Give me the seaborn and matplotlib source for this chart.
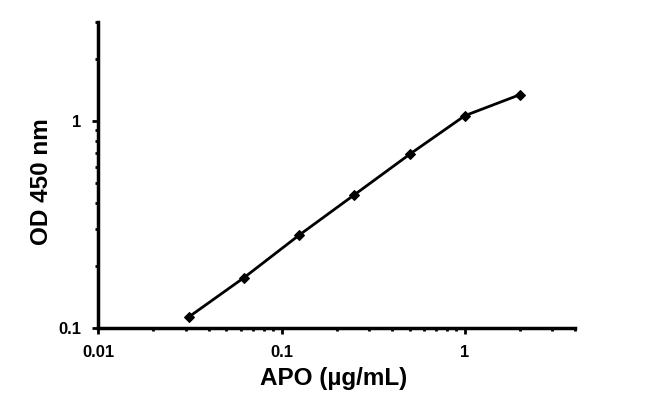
import numpy as np
import pandas as pd
import seaborn as sns
import matplotlib
matplotlib.use("Agg")
import matplotlib.pyplot as plt
from matplotlib.ticker import FixedLocator, FixedFormatter, LogLocator, NullFormatter

# standard curve data
conc = [0.03125, 0.0625, 0.125, 0.25, 0.5, 1, 2]
od = [0.113, 0.175, 0.281, 0.44, 0.69, 1.06, 1.34]

df = pd.DataFrame({"conc": conc, "od": od})

sns.set_style("white")
plt.rcParams['font.family'] = ['Liberation Sans', 'DejaVu Sans']
plt.rcParams['text.color'] = 'black'

fig = plt.figure(figsize=(6.5, 3.96), dpi=100)
ax = fig.add_axes([0.151, 0.172, 0.734, 0.772])

sns.lineplot(data=df, x="conc", y="od", ax=ax, color="black", linewidth=2,
             marker="D", markersize=5, markeredgecolor="black")

ax.set_xscale("log")
ax.set_yscale("log")
ax.set_xlim(0.01, 4)
ax.set_ylim(0.1, 3)

ax.xaxis.set_major_locator(FixedLocator([0.01, 0.1, 1]))
ax.xaxis.set_major_formatter(FixedFormatter(["0.01", "0.1", "1"]))
ax.yaxis.set_major_locator(FixedLocator([0.1, 1]))
ax.yaxis.set_major_formatter(FixedFormatter(["0.1", "1"]))
ax.xaxis.set_minor_locator(LogLocator(base=10, subs=np.arange(2, 10)))
ax.yaxis.set_minor_locator(LogLocator(base=10, subs=np.arange(2, 10)))
ax.xaxis.set_minor_formatter(NullFormatter())
ax.yaxis.set_minor_formatter(NullFormatter())

sns.despine(ax=ax)
for s in ["left", "bottom"]:
    ax.spines[s].set_linewidth(2.5)
    ax.spines[s].set_color("black")

ax.tick_params(which="major", direction="out", length=4, width=2, colors="black",
               labelcolor="black", labelsize=12, pad=8)
ax.tick_params(which="minor", direction="out", length=2, width=2, colors="black")
ax.tick_params(axis="x", which="both", bottom=True)
ax.tick_params(axis="y", which="both", left=True)
for lbl in ax.get_xticklabels() + ax.get_yticklabels():
    lbl.set_fontweight("bold")

ax.set_xlabel("APO (µg/mL)", fontsize=17.5, fontweight="bold", color="black")
ax.set_ylabel("OD 450 nm", fontsize=17.5, fontweight="bold", color="black")
ax.xaxis.set_label_coords(0.493, -0.128)
ax.yaxis.set_label_coords(-0.094, 0.48)

fig.savefig("out.png", dpi=100, facecolor="white")
